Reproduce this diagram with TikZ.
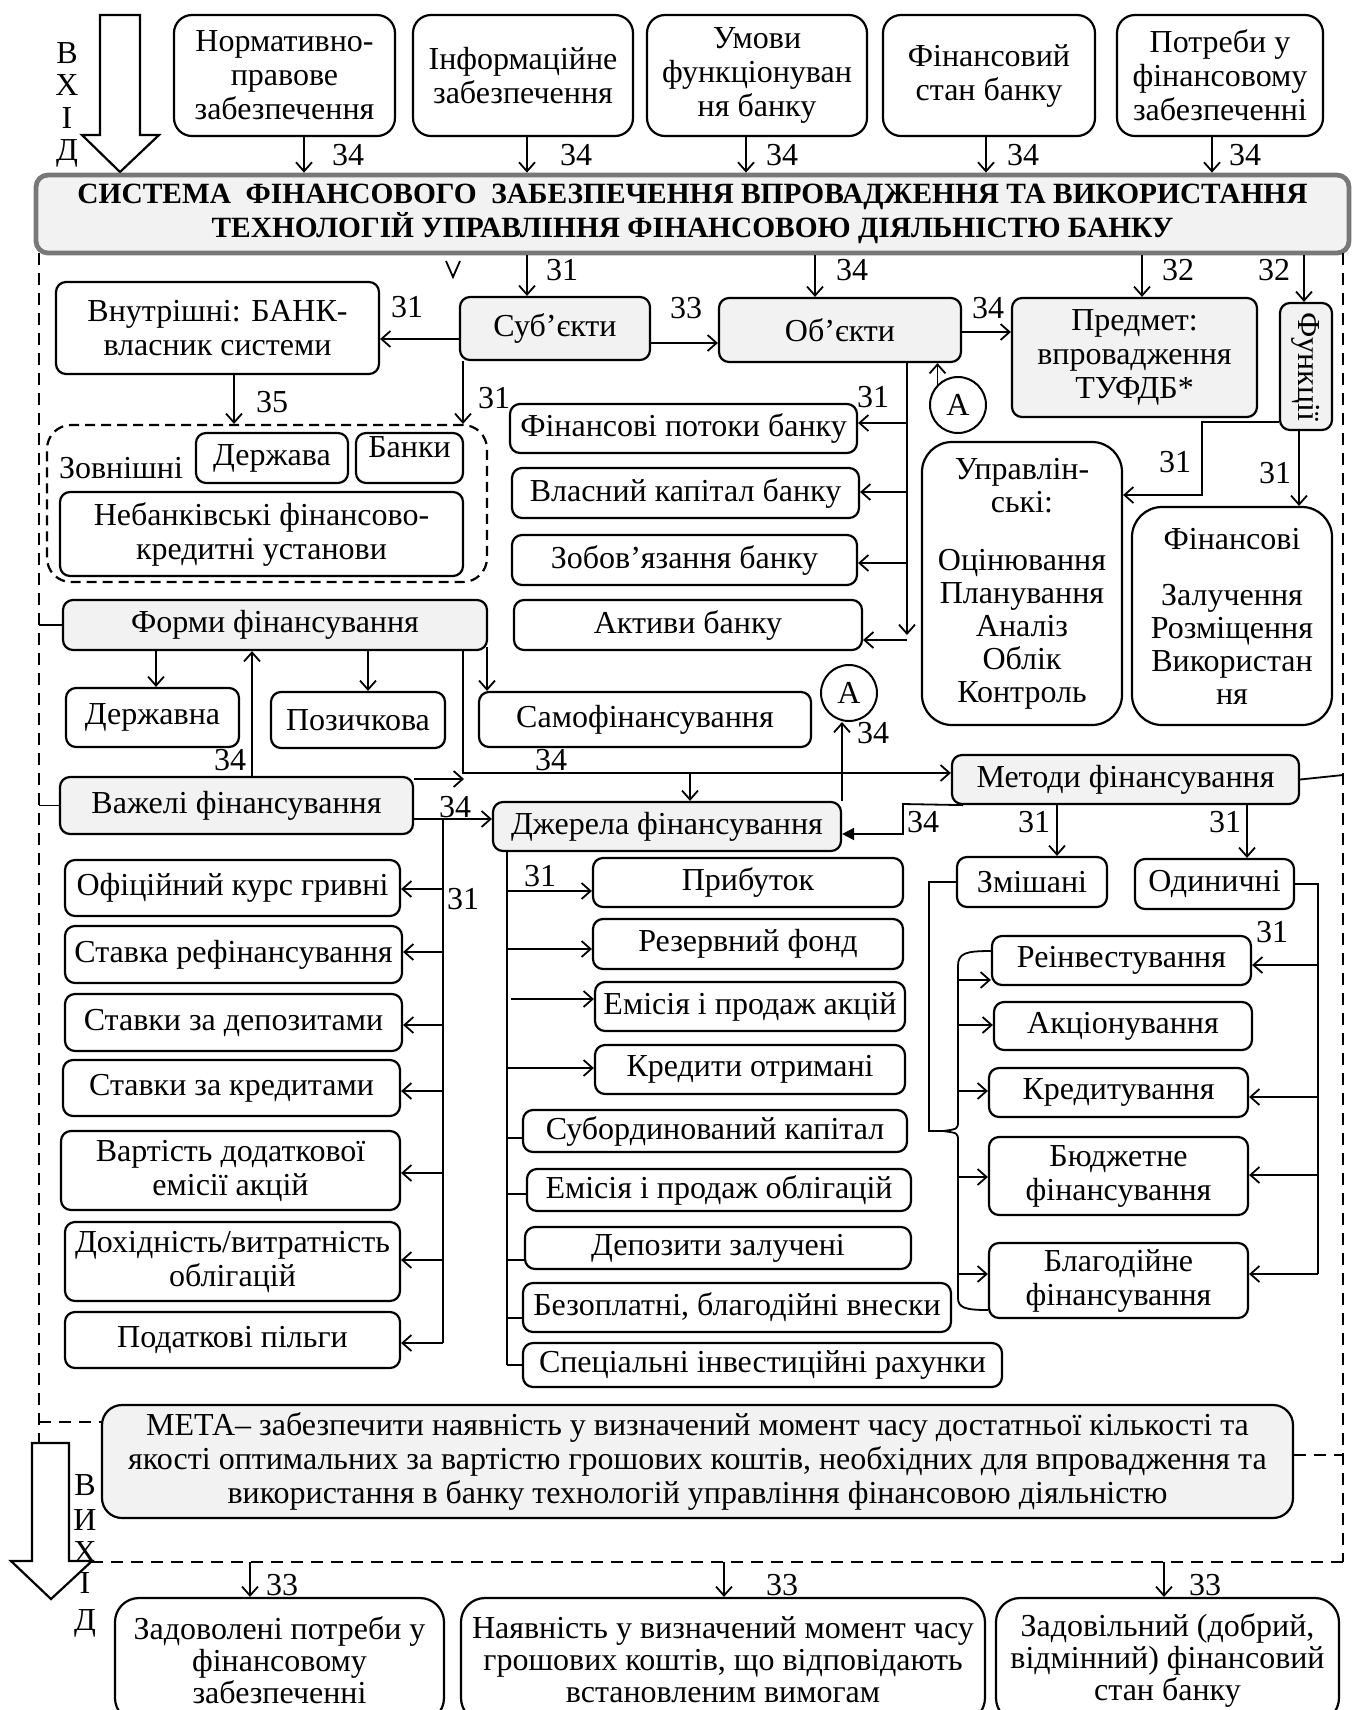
\documentclass[tikz,border=0pt]{standalone}
\usepackage{fontspec}
\setmainfont{Liberation Serif}
\usetikzlibrary{arrows.meta,calc}
\definecolor{gfill}{RGB}{242,242,242}
\definecolor{hdrc}{RGB}{120,120,120}
\newcommand\fs{\fontsize{16pt}{17pt}\selectfont}
\newcommand\nbox[7]{%
  \pgfmathsetmacro\nbcx{(#3+#5)/2}%
  \pgfmathsetmacro\nbcy{(#4+#6)/2}%
  \pgfmathsetmacro\nbw{(#5-#3)/2}%
  \pgfmathsetmacro\nbh{(#6-#4)/2}%
  \node[#1, minimum width=\nbw pt, minimum height=\nbh pt] (#2) at (\nbcx,\nbcy) {#7};}
\begin{document}
\begin{tikzpicture}[x=0.5pt,y=-0.5pt,
  box/.style={draw, line width=1.1pt, rounded corners=5pt, inner sep=0pt, align=center, font=\fs},
  gbox/.style={box, fill=gfill},
  tbox/.style={box, rounded corners=9pt},
  rbox/.style={box, rounded corners=15pt, font=\fontsize{16pt}{16.5pt}\selectfont},
  conn/.style={line width=0.9pt, -{Straight Barb[length=4.5pt,width=8pt]}},
  ln/.style={line width=0.9pt},
  lab/.style={font=\fs, inner sep=0pt},
  dsh/.style={line width=0.8pt, dash pattern=on 6pt off 4pt},
  circ/.style={draw, circle, line width=1pt, minimum size=28pt, inner sep=0pt, font=\fs},
]
\useasboundingbox (0,0) rectangle (1351,1710);

% ---------- input arrow ----------
\draw[line width=1.1pt] (100,15) -- (140,15) -- (140,135) -- (159,135) -- (120,172) -- (82,135) -- (100,135) -- cycle;
\node[lab] (inB) at (67,53) {В};
\node[lab] (inX) at (67,85) {Х};
\node[lab] (inI) at (67,118) {І};
\node[lab] (inD) at (67,153) {Д};

% ---------- top boxes ----------
\nbox{tbox}{t1}{174}{15}{395}{136}{Нормативно-\\правове\\забезпечення}
\nbox{tbox}{t2}{413}{15}{633}{136}{Інформаційне\\забезпечення}
\nbox{tbox}{t3}{647}{15}{867}{136}{Умови\\функціонуван\\ня банку}
\nbox{tbox}{t4}{883}{15}{1095}{136}{Фінансовий\\стан банку}
\nbox{tbox}{t5}{1117}{15}{1323}{136}{Потреби у\\фінансовому\\забезпеченні}

% ---------- header ----------
\nbox{box, fill=gfill, draw=hdrc, line width=2.4pt, rounded corners=6pt, font=\fontsize{14.7pt}{15pt}\selectfont\bfseries}{hdr}{36}{175}{1349}{253}%
  {СИСТЕМА\ \ ФІНАНСОВОГО\ \ ЗАБЕЗПЕЧЕННЯ ВПРОВАДЖЕННЯ ТА ВИКОРИСТАННЯ\\ТЕХНОЛОГІЙ УПРАВЛІННЯ ФІНАНСОВОЮ ДІЯЛЬНІСТЮ БАНКУ}

\foreach \xx/\nn/\lx in {304/t1/348, 527/t2/576, 746/t3/782, 986/t4/1023, 1212/t5/1245} {
  \draw[conn] (\xx,0 |- \nn.south) -- (\xx,0 |- hdr.north);
  \node[lab] (lab\nn) at (\lx,155) {34};
}

% ---------- dashed frame ----------
\draw[dsh] (39,253) -- (39,1443);
\draw[dsh] (1343,253) -- (1343,1562);
\draw[dsh] (71,1562) -- (1343,1562);

% V mark
\draw[ln] (446,261) -- (453,277) -- (460,261);

% ---------- second row ----------
\nbox{box}{vnutr}{56}{282}{379}{374}{Внутрішні: БАНК-\\власник системи}
\nbox{gbox}{subj}{460}{297}{650}{360}{Суб’єкти}
\nbox{gbox}{obj}{719}{298}{961}{362}{Об’єкти}
\nbox{gbox}{pred}{1012}{298}{1257}{417}{Предмет:\\впровадження\\ТУФДБ*}
\nbox{gbox}{funk}{1280}{303}{1332}{430}{}
\node[lab, rotate=-90] (funkt) at (funk.center) {Функції};

\draw[conn] (527,0 |- hdr.south) -- (527,0 |- subj.north);
\node[lab] (l31a) at (562,270) {31};
\draw[conn] (815,0 |- hdr.south) -- (815,0 |- obj.north);
\node[lab] (l34a) at (852,270) {34};
\draw[conn] (1142,0 |- hdr.south) -- (1142,0 |- pred.north);
\node[lab] (l32a) at (1178,270) {32};
\draw[conn] (1304,0 |- hdr.south) -- (1304,0 |- funk.north);
\node[lab] (l32b) at (1274,270) {32};

\draw[conn] (subj.west |- 0,339) -- (vnutr.east |- 0,339);
\node[lab] (l31b) at (407,307) {31};
\draw[conn] (subj.east |- 0,343) -- (obj.west |- 0,343);
\node[lab] (l33a) at (686,308) {33};
\draw[conn] (obj.east |- 0,332) -- (pred.west |- 0,332);
\node[lab] (l34b) at (988,308) {34};

% ---------- external subjects ----------
\nbox{draw, line width=1.1pt, dash pattern=on 5pt off 3pt, rounded corners=12pt, inner sep=0pt}{ext}{47}{425}{487}{582}{}
\node[lab] (zovn) at (121,468) {Зовнішні};
\nbox{box}{derzh}{196}{433}{348}{483}{Держава}
\nbox{box}{banky}{356}{433}{463}{483}{Банки\\[-6pt]\mbox{}}
\nbox{box}{nebank}{60}{492}{463}{576}{Небанківські фінансово-\\кредитні установи}

\draw[conn] (234,0 |- vnutr.south) -- (234,0 |- ext.north);
\node[lab] (l35) at (272,402) {35};
\draw[conn] (463,0 |- subj.south) -- (463,0 |- ext.north);
\node[lab] (l31c) at (494,398) {31};

% ---------- objects ----------
\nbox{box}{fp}{510}{404}{857}{453}{Фінансові потоки банку}
\nbox{box}{vk}{512}{468}{859}{518}{Власний капітал банку}
\nbox{box}{zob}{512}{535}{857}{585}{Зобов’язання банку}
\nbox{box}{akt}{514}{600}{862}{650}{Активи банку}
\coordinate (objbot) at (907,635);
\draw[conn] (907,0 |- obj.south) -- (objbot);
\draw[conn] (907,423) -- (fp.east |- 0,423);
\draw[conn] (907,492) -- (vk.east |- 0,492);
\draw[conn] (907,563) -- (zob.east |- 0,563);
\draw[conn] (907,640) -- (akt.east |- 0,640);
\node[lab] (l31d) at (873,397) {31};

\node[circ] (A1) at (958,405) {А};
\draw[conn] (A1.north west) -- (A1.north west |- obj.south);

% ---------- functions ----------
\nbox{rbox}{upr}{922}{442}{1122}{725}{Управлін-\\ські:\\[12.5pt]Оцінювання\\Планування\\Аналіз\\Облік\\Контроль}
\nbox{rbox}{fin}{1132}{507}{1332}{725}{Фінансові\\[11.5pt]Залучення\\Розміщення\\Використан\\ня}
\draw[conn] (funk.west |- 0,422) -- (1202,422) -- (1202,495) -- (upr.east |- 0,495);
\node[lab] (l31e) at (1175,462) {31};
\draw[conn] (1299,0 |- funk.south) -- (1299,0 |- fin.north);
\node[lab] (l31f) at (1275,473) {31};

% ---------- forms ----------
\nbox{gbox}{forms}{63}{600}{487}{650}{Форми фінансування}
\draw[ln] (39,0 |- forms.west) -- (forms.west);
\nbox{box}{derzhavna}{66}{688}{239}{747}{Державна}
\nbox{box}{pozych}{271}{692}{445}{748}{Позичкова}
\nbox{box}{samo}{479}{692}{811}{747}{Самофінансування}
\draw[conn] (156,0 |- forms.south) -- (156,0 |- derzhavna.north);
\draw[conn] (368,0 |- forms.south) -- (368,0 |- pozych.north);
\draw[conn] (487,647) -- (487,0 |- samo.north);

% ---------- levers, sources, methods ----------
\nbox{gbox}{vazh}{60}{777}{413}{834}{Важелі фінансування}
\draw[ln] (39,0 |- vazh.west) -- (vazh.west);
\nbox{gbox}{dzh}{493}{802}{841}{851}{Джерела фінансування}
\nbox{gbox}{met}{952}{755}{1299}{804}{Методи фінансування}
\draw[ln] (met.east) -- (1343,775);

\draw[conn] (252,0 |- vazh.north) -- (252,0 |- forms.south);
\node[lab] (l34c) at (230,760) {34};
\draw[conn] (463,0 |- forms.south) -- (463,773) -- (met.west |- 0,773);
\node[lab] (l34d) at (551,760) {34};
\draw[conn] (vazh.east |- 0,779) -- (464,779);
\draw[conn] (690,773) -- (690,0 |- dzh.north);
\draw[conn] (vazh.east |- 0,819) -- (dzh.west |- 0,819);
\node[lab] (l34e) at (455,807) {34};

\node[circ] (A2) at (849,693) {А};
\draw[conn] (842,0 |- dzh.north) -- (842,0 |- A2.south);
\node[lab] (l34f) at (873,733) {34};

\draw[line width=0.9pt, -{Triangle[length=6pt,width=6pt]}] (963,0 |- met.south) -- (903,804) -- (903,834) -- (dzh.east |- 0,834);
\node[lab] (l34g) at (923,822) {34};

% ---------- methods children ----------
\nbox{box}{zmish}{957}{857}{1107}{907}{Змішані}
\nbox{box}{odyn}{1135}{859}{1294}{909}{Одиничні}
\draw[conn] (1057,0 |- met.south) -- (1057,0 |- zmish.north);
\node[lab] (l31g) at (1034,822) {31};
\draw[conn] (1247,0 |- met.south) -- (1247,0 |- odyn.north);
\node[lab] (l31h) at (1225,822) {31};

\nbox{box}{rein}{992}{936}{1251}{985}{Реінвестування}
\nbox{box}{akc}{994}{1002}{1252}{1050}{Акціонування}
\nbox{box}{kred}{989}{1068}{1248}{1117}{Кредитування}
\nbox{box}{budg}{989}{1137}{1248}{1215}{Бюджетне\\фінансування}
\nbox{box}{blag}{989}{1243}{1248}{1318}{Благодійне\\фінансування}

\draw[ln] (zmish.west) -- (929,882) -- (929,1131) -- (943,1131);
\draw[ln] (rein.west |- 0,951) .. controls (966,951) and (958,953) .. (958,966) -- (958,1121)
   .. controls (958,1129) .. (943,1131) .. controls (958,1133) .. (958,1141) -- (958,1298)
   .. controls (958,1308) and (966,1310) .. (blag.west |- 0,1310);
\draw[conn] (958,980) -- (rein.west |- 0,980);
\draw[conn] (958,1025) -- (akc.west |- 0,1025);
\draw[conn] (958,1091) -- (kred.west |- 0,1091);
\draw[conn] (958,1177) -- (budg.west |- 0,1177);
\draw[conn] (958,1274) -- (blag.west |- 0,1274);

\draw[ln] (odyn.east) -- (1318,0 |- odyn.east) -- (1318,1274);
\draw[conn] (1318,965) -- (rein.east |- 0,965);
\draw[conn] (1318,1097) -- (kred.east |- 0,1097);
\draw[conn] (1318,1175) -- (budg.east |- 0,1175);
\draw[conn] (1318,1274) -- (blag.east |- 0,1274);
\node[lab] (l31i) at (1272,932) {31};

% ---------- levers children ----------
\nbox{box}{ofic}{65}{860}{400}{916}{Офіційний курс гривні}
\nbox{box}{stref}{65}{926}{402}{983}{Ставка рефінансування}
\nbox{box}{stdep}{65}{994}{402}{1051}{Ставки за депозитами}
\nbox{box}{stkr}{63}{1060}{400}{1116}{Ставки за кредитами}
\nbox{box}{vart}{61}{1131}{400}{1210}{Вартість додаткової\\емісії акцій}
\nbox{box}{dohid}{65}{1222}{400}{1301}{Дохідність/витратність\\облігацій}
\nbox{box}{podat}{65}{1312}{400}{1368}{Податкові пільги}
\draw[ln] (443,819) -- (443,1343);
\draw[conn] (443,889) -- (ofic.east |- 0,889);
\draw[conn] (443,952) -- (stref.east |- 0,952);
\draw[conn] (443,1025) -- (stdep.east |- 0,1025);
\draw[conn] (443,1091) -- (stkr.east |- 0,1091);
\draw[conn] (443,1173) -- (vart.east |- 0,1173);
\draw[conn] (443,1260) -- (dohid.east |- 0,1260);
\draw[conn] (443,1343) -- (podat.east |- 0,1343);
\node[lab] (l31j) at (463,899) {31};

% ---------- sources children ----------
\nbox{box}{prib}{593}{858}{903}{907}{Прибуток}
\nbox{box}{rez}{593}{919}{903}{969}{Резервний фонд}
\nbox{box}{emak}{595}{982}{905}{1031}{Емісія і продаж акцій}
\nbox{box}{kreo}{595}{1045}{905}{1094}{Кредити отримані}
\nbox{box}{subo}{523}{1110}{907}{1152}{Субординований капітал}
\nbox{box}{emob}{527}{1169}{911}{1211}{Емісія і продаж облігацій}
\nbox{box}{depz}{525}{1227}{911}{1269}{Депозити залучені}
\nbox{box}{bezo}{523}{1283}{951}{1332}{Безоплатні, благодійні внески}
\nbox{box}{spec}{523}{1343}{1002}{1387}{Спеціальні інвестиційні рахунки}
\draw[ln] (507,0 |- dzh.south) -- (507,1365);
\draw[conn] (507,891) -- (prib.west |- 0,891);
\draw[conn] (507,949) -- (rez.west |- 0,949);
\draw[conn] (511,999) -- (emak.west |- 0,999);
\draw[conn] (507,1068) -- (kreo.west |- 0,1068);
\draw[ln] (507,1138) -- (subo.west |- 0,1138);
\draw[ln] (507,1194) -- (emob.west |- 0,1194);
\draw[ln] (507,1260) -- (depz.west |- 0,1260);
\draw[ln] (507,1318) -- (bezo.west |- 0,1318);
\draw[ln] (507,1365) -- (spec.west |- 0,1365);
\node[lab] (l31k) at (540,876) {31};

% ---------- goal ----------
\nbox{gbox, rounded corners=10pt}{meta}{102}{1405}{1293}{1518}%
  {МЕТА– забезпечити наявність у визначений момент часу достатньої кількості та\\якості оптимальних за вартістю грошових коштів, необхідних для впровадження та\\використання в банку технологій управління фінансовою діяльністю}
\draw[dsh] (39,1422) -- (meta.west |- 0,1422);
\draw[dsh] (meta.east |- 0,1455) -- (1343,1455);

% ---------- output arrow ----------
\draw[line width=1.1pt, fill=white] (32,1443) -- (69,1443) -- (69,1561) -- (92,1561) -- (51,1599) -- (11,1561) -- (32,1561) -- cycle;
\node[lab] (outB) at (85,1485) {В};
\node[lab] (outI) at (85,1520) {И};
\node[lab] (outX) at (85,1552) {Х};
\node[lab] (outI2) at (85,1583) {І};
\node[lab] (outD) at (85,1623) {Д};

% ---------- outputs ----------
\nbox{box, rounded corners=12pt, font=\fontsize{16pt}{16pt}\selectfont}{o1}{115}{1598}{444}{1722}{Задоволені потреби у\\фінансовому\\забезпеченні}
\nbox{box, rounded corners=12pt, font=\fontsize{16pt}{16pt}\selectfont}{o2}{461}{1598}{985}{1722}{Наявність у визначений момент часу\\грошових коштів, що відповідають\\встановленим вимогам}
\nbox{box, rounded corners=12pt, font=\fontsize{16pt}{16pt}\selectfont}{o3}{996}{1598}{1339}{1722}{Задовільний (добрий,\\відмінний) фінансовий\\стан банку}
\draw[conn] (250,1562) -- (250,0 |- o1.north);
\node[lab] (l33b) at (282,1585) {33};
\draw[conn] (724,1562) -- (724,0 |- o2.north);
\node[lab] (l33c) at (782,1585) {33};
\draw[conn] (1164,1562) -- (1164,0 |- o3.north);
\node[lab] (l33d) at (1205,1585) {33};
\end{tikzpicture}
\end{document}
